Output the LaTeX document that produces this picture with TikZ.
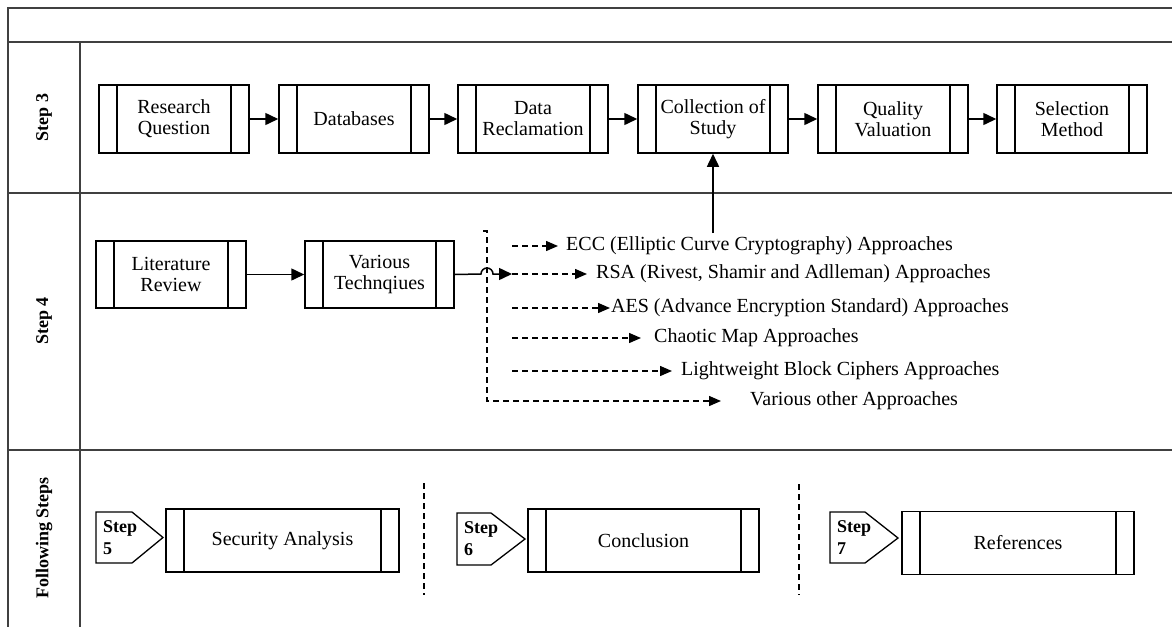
\documentclass[tikz,border=0pt]{standalone}
\usepackage{fontspec}
\setmainfont{Liberation Serif}
\usetikzlibrary{arrows.meta}
\begin{document}
\begin{tikzpicture}[x=1pt,y=-1pt,
  frame/.style={line width=1.6pt, draw=black!75},
  pbox/.style={draw, line width=1.5pt, rectangle, inner sep=0pt, align=center,
    font=\fontsize{20}{21}\selectfont,
    path picture={\draw[line width=1.5pt]
      ([xshift=18pt]path picture bounding box.north west) -- ([xshift=18pt]path picture bounding box.south west)
      ([xshift=-18pt]path picture bounding box.north east) -- ([xshift=-18pt]path picture bounding box.south east);}},
  sbox/.style={pbox, minimum width=150pt, minimum height=68pt},
  fbox/.style={pbox, minimum width=232pt, minimum height=63pt},
  arr/.style={line width=1.5pt, -{Triangle[length=13pt,width=12pt]}},
  darr/.style={line width=1.4pt, dash pattern=on 6pt off 4pt, -{Triangle[length=12pt,width=10pt]}},
  dsh/.style={line width=1.4pt, dash pattern=on 6pt off 4pt},
  lane/.style={rotate=90, font=\bfseries\fontsize{18}{20}\selectfont},
  appr/.style={anchor=west, inner sep=0pt, font=\fontsize{20}{22}\selectfont},
  pent/.style={line width=1.3pt},
  ptext/.style={anchor=north west, inner sep=0pt, align=left, font=\bfseries\fontsize{18}{22}\selectfont}
]
\useasboundingbox (0,0) rectangle (1172,627);
% frame
\draw[frame] (1172,8) -- (8,8) -- (8,627);
\draw[frame] (8,42) -- (1172,42);
\draw[frame] (8,193) -- (1172,193);
\draw[frame] (8,450) -- (1172,450);
\draw[frame] (80,42) -- (80,627);
% lane labels
\node[lane] (l3) at (44,117.5) {Step 3};
\node[lane] (l4) at (44,321) {Step 4};
\node[lane] (lf) at (44,538) {Following Steps};
% step 3
\node[sbox] (rq) at (174,119) {Research\\Question};
\node[sbox] (db) at (354,119) {Databases};
\node[sbox] (dr) at (533,119) {Data\\Reclamation};
\node[sbox] (cs) at (713,119) {Collection of\\Study};
\node[sbox] (qv) at (893,119) {Quality\\Valuation};
\node[sbox] (sm) at (1072,119) {Selection\\Method};
\draw[arr] (rq) -- (db);
\draw[arr] (db) -- (dr);
\draw[arr] (dr) -- (cs);
\draw[arr] (cs) -- (qv);
\draw[arr] (qv) -- (sm);
% step 4
\node[pbox, minimum width=150pt, minimum height=67pt] (lr) at (171,274.5) {Literature\\Review};
\node[pbox, minimum width=149pt, minimum height=67pt] (vt) at (379.5,274.5) {Various\\Technqiues};
\draw[arr] (lr) -- (vt);
\node[appr] (ecc) at (566,246) {ECC (Elliptic Curve Cryptography) Approaches};
\node[appr] (rsa) at (596,274) {RSA (Rivest, Shamir and Adlleman) Approaches};
\node[appr] (aes) at (611,308) {AES (Advance Encryption Standard) Approaches};
\node[appr] (cm) at (654,338) {Chaotic Map Approaches};
\node[appr] (lw) at (681,371) {Lightweight Block Ciphers Approaches};
\node[appr] (vo) at (750,401) {Various other Approaches};
\coordinate (hop) at (512,274);
\draw[arr] (vt.east) -- (481,274) arc[start angle=180, end angle=0, radius=6pt] -- (hop);
\coordinate (dtop) at (483,231);
\draw[darr] (dtop) -- (487,231) |- ([xshift=-29pt]vo.west);
\coordinate (d1) at (512,246);
\coordinate (d3) at (512,308);
\coordinate (d4) at (512,338);
\coordinate (d5) at (512,371);
\draw[darr] (d1) -- ([xshift=-8pt]ecc.west);
\draw[darr] (hop) -- ([xshift=-9pt]rsa.west);
\draw[darr] (d3) -- ([xshift=-1pt]aes.west);
\draw[darr] (d4) -- ([xshift=-13pt]cm.west);
\draw[darr] (d5) -- ([xshift=-9pt]lw.west);
\coordinate (up) at (713,233);
\draw[arr] (up) -- (cs.south);
% following steps
\draw[pent] (96,512) -- (132,512) -- (163,537.5) -- (132,563) -- (96,563) -- cycle;
\node[ptext] (p5) at (103,520) {Step\\5};
\node[fbox, minimum width=233pt] (sa) at (282.5,540.5) {Security Analysis};
\draw[dsh] (424,483) -- (424,595);
\draw[pent] (457,513) -- (491,513) -- (525,539) -- (491,565) -- (457,565) -- cycle;
\node[ptext] (p6) at (464,521) {Step\\6};
\node[fbox, minimum width=231pt] (co) at (643.5,540.5) {Conclusion};
\draw[dsh] (799,484) -- (799,595);
\draw[pent] (830,512) -- (865,512) -- (898,538) -- (865,563) -- (830,563) -- cycle;
\node[ptext] (p7) at (837,520) {Step\\7};
\node[fbox] (rf) at (1018,543) {References};
\end{tikzpicture}
\end{document}
